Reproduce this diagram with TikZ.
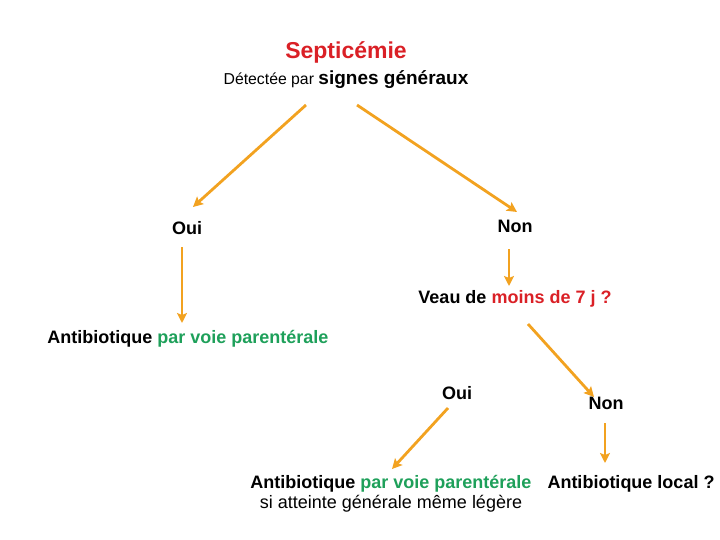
\documentclass[tikz,border=0pt]{standalone}
\usepackage{fontspec}
\setmainfont{Liberation Sans}
\usetikzlibrary{arrows.meta}
\definecolor{tred}{RGB}{218,32,38}
\definecolor{tgreen}{RGB}{30,160,90}
\definecolor{torange}{RGB}{242,162,32}
\tikzset{
  lbl/.style={inner sep=0pt, font=\fontsize{18}{21}\selectfont\bfseries},
  arr/.style={draw=torange, line width=2.8pt, -{Stealth[length=10pt,width=10pt,inset=2pt]}},
}
\begin{document}
\begin{tikzpicture}[x=1pt,y=-1pt]
\useasboundingbox (0,0) rectangle (720,540);
\node[lbl, text=tred, font=\fontsize{23}{27}\selectfont\bfseries] (sept) at (346,52) {Septicémie};
\node[inner sep=0pt, anchor=base] (det) at (346,85) {\fontsize{15.8}{18}\selectfont Détectée par \fontsize{19}{22}\selectfont\bfseries signes généraux};
\node[lbl] (oui1) at (187,228) {Oui};
\node[lbl] (non1) at (515,226) {Non};
\node[lbl] (veau) at (515,299) {Veau de \textcolor{tred}{moins de 7 j ?}};
\node[lbl] (anti1) at (188,339) {Antibiotique \textcolor{tgreen}{par voie parentérale}};
\node[lbl] (oui2) at (457,393) {Oui};
\node[lbl] (non2) at (606,403) {Non};
\node[inner sep=0pt, align=center, font=\fontsize{18}{19.5}\selectfont] (anti2) at (391,494) {\textbf{Antibiotique \textcolor{tgreen}{par voie parentérale}}\\si atteinte générale même légère};
\node[lbl] (loc) at (631,484) {Antibiotique local ?};
\coordinate (a1s) at (306,105); \coordinate (a1e) at (193,207);
\coordinate (a2s) at (357,105); \coordinate (a2e) at (517,212);
\coordinate (a3s) at (182,247); \coordinate (a3e) at (182,323);
\coordinate (a4s) at (509,249); \coordinate (a4e) at (509,286);
\coordinate (a5s) at (448,408); \coordinate (a5e) at (392,469);
\coordinate (a6s) at (528,324); \coordinate (a6e) at (594,397);
\coordinate (a7s) at (605,423); \coordinate (a7e) at (605,463);
\draw[arr] (a1s) -- (a1e);
\draw[arr] (a2s) -- (a2e);
\draw[arr] (a3s) -- (a3e);
\draw[arr] (a4s) -- (a4e);
\draw[arr] (a5s) -- (a5e);
\draw[arr] (a6s) -- (a6e);
\draw[arr] (a7s) -- (a7e);
\end{tikzpicture}
\end{document}
